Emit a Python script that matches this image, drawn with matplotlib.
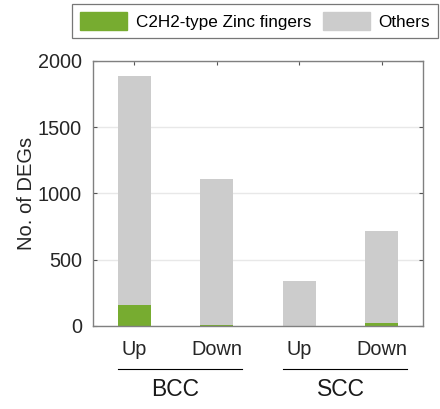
import numpy as np
import matplotlib
matplotlib.use("Agg")
import matplotlib.pyplot as plt
from matplotlib.patches import Patch

plt.rcParams['font.family'] = ['Liberation Sans', 'DejaVu Sans']

# data
groups = ['BCC', 'SCC']
directions = ['Up', 'Down', 'Up', 'Down']
zinc = [160, 10, 3, 22]
total = [1890, 1110, 340, 715]
others = [t - z for t, z in zip(total, zinc)]

green = '#77AC30'
grey = '#CCCCCC'

fig = plt.figure(figsize=(4.4, 4.09), dpi=100)
ax = fig.add_axes([0.2114, 0.203, 0.7500, 0.648])

x = np.arange(1, len(directions) + 1)
ax.bar(x, zinc, width=0.4, color=green, zorder=2)
ax.bar(x, others, width=0.4, bottom=zinc, color=grey, zorder=2)

ax.set_xlim(0.5, 4.5)
ax.set_ylim(0, 2000)
ax.set_yticks([0, 500, 1000, 1500, 2000])
ax.set_xticks(x)
ax.set_xticklabels(directions)
ax.yaxis.grid(True, color='#E8E8E8', lw=1, zorder=0)
ax.tick_params(direction='in', top=True, right=True, length=3,
               color='#555555', labelsize=14.3, labelcolor='#262626', pad=8)
ax.tick_params(axis='x', pad=10)
for s in ax.spines.values():
    s.set_color('#808080')
    s.set_linewidth(1)
ax.set_ylabel('No. of DEGs', fontsize=14.5, color='#262626', labelpad=1)

# group lines and labels under the tick labels
tr = ax.get_xaxis_transform()
for i, g in enumerate(groups):
    a, b = x[2 * i] - 0.2, x[2 * i + 1] + 0.3
    ax.plot([a, b], [-0.162, -0.162], color='black', lw=0.8,
            transform=tr, clip_on=False)
    ax.text((x[2 * i] + x[2 * i + 1]) / 2, -0.198, g, transform=tr,
            ha='center', va='top', fontsize=16.5, color='#1a1a1a')

handles = [Patch(color=green), Patch(color=grey)]
leg = fig.legend(handles, ['C2H2-type Zinc fingers', 'Others'], ncol=2,
                 loc='upper right', bbox_to_anchor=(0.995, 0.99),
                 fontsize=12.3, fancybox=False, edgecolor='#555555',
                 handlelength=2.75, handleheight=1.3, handletextpad=0.5,
                 columnspacing=0.7, borderpad=0.45, borderaxespad=0)
leg.get_frame().set_linewidth(0.9)

fig.savefig('out.png', dpi=100)
